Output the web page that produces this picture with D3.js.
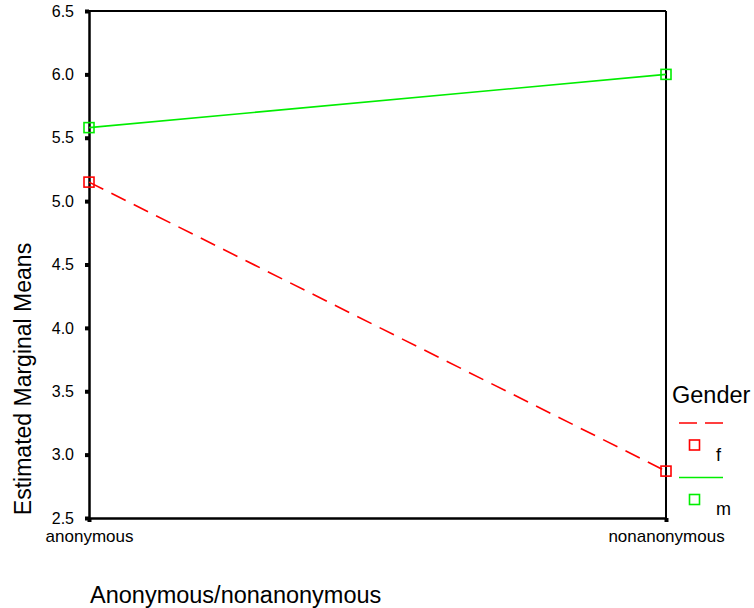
<!DOCTYPE html>
<html><head><meta charset="utf-8">
<script src="https://cdn.jsdelivr.net/npm/d3@7"></script>
<style>body{margin:0;background:#fff}svg{display:block;font-family:Arial,"Liberation Sans",sans-serif}</style>
</head><body>
<script>
const categories = ["anonymous", "nonanonymous"];
const seriesNames = ["f", "m"];
const fValues = [5.15, 2.87];
const mValues = [5.58, 6.0];
const yTicks = [2.5, 3.0, 3.5, 4.0, 4.5, 5.0, 5.5, 6.0, 6.5];
const colors = {f: "#ff0000", m: "#00ee00"};

const W = 754, H = 608;
const L = 89, R = 666, T = 11, B = 518;
const FONT = "Arial, 'Liberation Sans', sans-serif";
const svg = d3.select("body").append("svg").attr("width", W).attr("height", H);

const x = d3.scalePoint().domain(categories).range([L, R]);
const y = d3.scaleLinear().domain([2.5, 6.5]).range([B, T]);

// frame
svg.append("line").attr("x1", L).attr("x2", R).attr("y1", T).attr("y2", T).attr("stroke", "#000").attr("stroke-width", 2);
svg.append("line").attr("x1", R).attr("x2", R).attr("y1", T).attr("y2", B).attr("stroke", "#000").attr("stroke-width", 2);

// y axis
const ya = svg.append("g").attr("transform", `translate(${L},0)`)
  .call(d3.axisLeft(y).tickValues(yTicks).tickFormat(d3.format(".1f")).tickSize(0).tickPadding(15));
ya.select(".domain").attr("stroke-width", 2.5);
ya.selectAll("text").attr("font-size", 16).attr("fill", "#000").attr("font-family", FONT);
ya.selectAll(".tick").append("rect").attr("x", -4).attr("y", -2).attr("width", 4).attr("height", 4).attr("fill", "#000");

// x axis
const xa = svg.append("g").attr("transform", `translate(0,${B})`)
  .call(d3.axisBottom(x).tickSize(0).tickPadding(12));
xa.select(".domain").attr("stroke-width", 2.5);
xa.selectAll("text").attr("font-size", 17).attr("fill", "#000").attr("font-family", FONT);
xa.selectAll(".tick").append("rect").attr("x", -2).attr("y", 0).attr("width", 4).attr("height", 4).attr("fill", "#000");

// titles
svg.append("text").attr("transform", `translate(31,379) rotate(-90)`).attr("text-anchor", "middle")
  .attr("font-size", 23).text("Estimated Marginal Means");
svg.append("text").attr("x", 90).attr("y", 603).attr("font-size", 23.5).text("Anonymous/nonanonymous");

// series
const series = [{name: "f", values: fValues, dash: "16,9"}, {name: "m", values: mValues, dash: null}];
const line = d3.line().x((d, i) => x(categories[i])).y(d => y(d));
series.forEach(s => {
  svg.append("path").datum(s.values).attr("d", line).attr("fill", "none")
    .attr("stroke", colors[s.name]).attr("stroke-width", 1.6).attr("stroke-dasharray", s.dash);
  svg.selectAll(null).data(s.values).enter().append("rect")
    .attr("x", (d, i) => x(categories[i]) - 5).attr("y", d => y(d) - 5)
    .attr("width", 10).attr("height", 10).attr("fill", "none")
    .attr("stroke", colors[s.name]).attr("stroke-width", 1.6);
});

// legend
svg.append("text").attr("x", 672).attr("y", 403).attr("font-size", 23.5).text("Gender");
series.forEach((s, i) => {
  const y0 = 423 + i * 54.5;
  svg.append("line").attr("x1", 679).attr("x2", 723).attr("y1", y0).attr("y2", y0)
    .attr("stroke", colors[s.name]).attr("stroke-width", 1.6).attr("stroke-dasharray", s.dash ? "18,8" : null);
  svg.append("rect").attr("x", 689.5).attr("y", y0 + 17).attr("width", 10).attr("height", 10)
    .attr("fill", "none").attr("stroke", colors[s.name]).attr("stroke-width", 1.6);
  svg.append("text").attr("x", 716).attr("y", y0 + 37.5).attr("font-size", 18).text(s.name);
});
</script>
</body></html>
